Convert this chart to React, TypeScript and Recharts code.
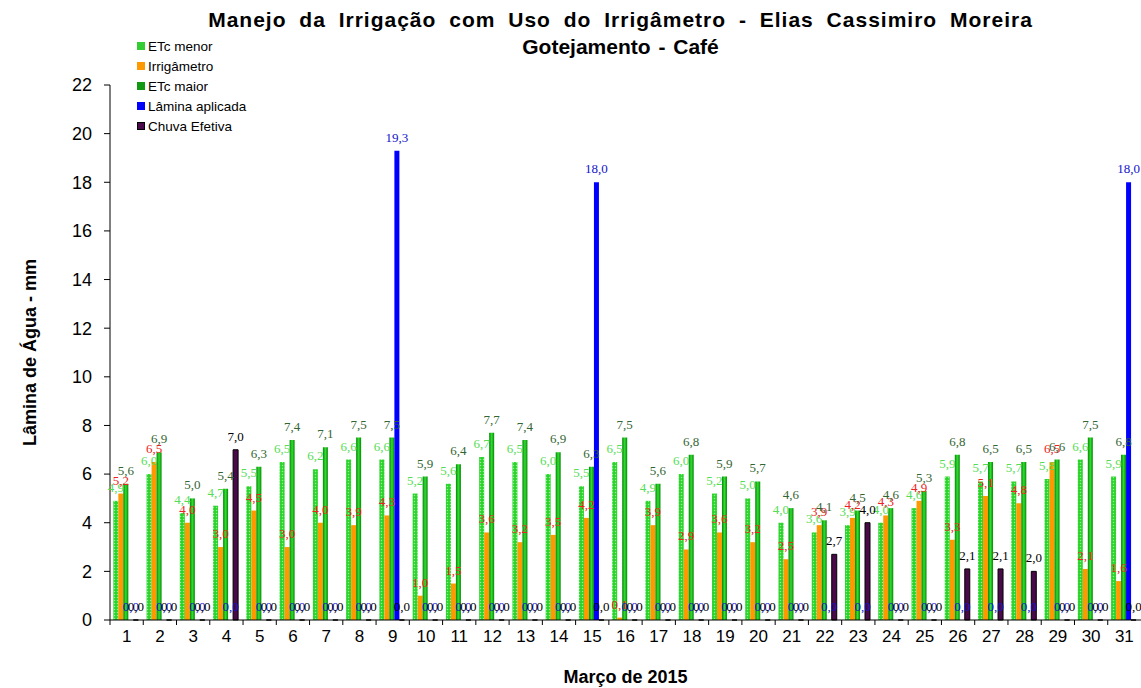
import React from 'react';
import { BarChart, Bar, XAxis, YAxis, LabelList } from 'recharts';

const days = ['1','2','3','4','5','6','7','8','9','10','11','12','13','14','15','16','17','18','19','20','21','22','23','24','25','26','27','28','29','30','31'];
const etcMenor = [4.9,6.0,4.4,4.7,5.5,6.5,6.2,6.6,6.6,5.2,5.6,6.7,6.5,6.0,5.5,6.5,4.9,6.0,5.2,5.0,4.0,3.6,3.9,4.0,4.6,5.9,5.7,5.7,5.8,6.6,5.9];
const irrigametro = [5.2,6.5,4.0,3.0,4.5,3.0,4.0,3.9,4.3,1.0,1.5,3.6,3.2,3.5,4.2,0.1,3.9,2.9,3.6,3.2,2.5,3.9,4.2,4.3,4.9,3.3,5.1,4.8,6.5,2.1,1.6];
const etcMaior = [5.6,6.9,5.0,5.4,6.3,7.4,7.1,7.5,7.5,5.9,6.4,7.7,7.4,6.9,6.3,7.5,5.6,6.8,5.9,5.7,4.6,4.1,4.5,4.6,5.3,6.8,6.5,6.5,6.6,7.5,6.8];
const laminaAplicada = [0,0,0,0,0,0,0,0,19.3,0,0,0,0,0,18.0,0,0,0,0,0,0,0,0,0,0,0,0,0,0,0,18.0];
const chuvaEfetiva = [0,0,0,7.0,0,0,0,0,0,0,0,0,0,0,0,0,0,0,0,0,0,2.7,4.0,0,0,2.1,2.1,2.0,0,0,0];
const yTicks = [0,2,4,6,8,10,12,14,16,18,20,22];

const data = days.map((d, i) => ({
  day: d,
  menor: etcMenor[i],
  irrig: irrigametro[i],
  maior: etcMaior[i],
  lamina: laminaAplicada[i],
  chuva: chuvaEfetiva[i],
}));

const fmt = (v: any) => Number(v).toFixed(1).replace('.', ',');

const makeLabel = (color: string) => (props: any) => {
  const { x, y, width, value } = props;
  return (
    <text x={Number(x) + Number(width) / 2} y={Number(y) - 9} textAnchor="middle" fill={color}
      style={{ fontFamily: '"Liberation Serif", serif', fontSize: 13 }}>
      {fmt(value)}
    </text>
  );
};

const XTick = (props: any) => {
  const { x, y, payload } = props;
  const off = payload && typeof payload.offset === 'number' ? payload.offset : 0;
  const axisY = y - 8;
  return (
    <g>
      <line x1={x - off} x2={x - off} y1={axisY} y2={axisY + 5} stroke="#000" />
      <text x={x} y={y} dy={14} textAnchor="middle" fill="#000" style={{ fontSize: 17, fontFamily: '"Liberation Sans", Arial, sans-serif' }}>
        {payload.value}
      </text>
    </g>
  );
};

const legendItems = [
  { name: 'ETc menor', color: '#33cc33' },
  { name: 'Irrigâmetro', color: '#ff9900' },
  { name: 'ETc maior', color: '#119911' },
  { name: 'Lâmina aplicada', color: '#0000ff' },
  { name: 'Chuva Efetiva', color: '#4a0a4a' },
];

export default function App() {
  return (
    <div style={{ position: 'absolute', left: 0, top: 0, width: 1141, height: 688, background: '#fff', fontFamily: '"Liberation Sans", Arial, sans-serif', overflow: 'hidden' }}>
      <div style={{ position: 'absolute', left: 0, width: 1141, top: 6, textAlign: 'center', paddingLeft: 100, boxSizing: 'border-box', fontWeight: 'bold', fontSize: 21, lineHeight: '27px', color: '#000' }}>
        <div style={{ letterSpacing: 1, wordSpacing: 6, whiteSpace: 'nowrap' }}>Manejo da Irrigação com Uso do Irrigâmetro - Elias Cassimiro Moreira</div>
        <div style={{ wordSpacing: 2 }}>Gotejamento - Café</div>
      </div>
      <div style={{ position: 'absolute', left: 137, top: 36, fontSize: 13.5, color: '#000', zIndex: 2 }}>
        {legendItems.map((it) => (
          <div key={it.name} style={{ display: 'flex', alignItems: 'center', height: 20 }}>
            <span style={{ display: 'inline-block', width: 8, height: 8, background: it.color, border: it.name === 'Chuva Efetiva' ? '1px solid #000' : 'none', marginRight: 3, boxSizing: 'border-box' }} />
            <span>{it.name}</span>
          </div>
        ))}
      </div>
      <BarChart width={1141} height={688} data={data} margin={{ top: 85, right: 0, bottom: 40, left: 0 }} barGap={0} barCategoryGap="10%">
        <defs>
          <pattern id="hatch" width="3" height="3" patternUnits="userSpaceOnUse">
            <rect width="3" height="3" fill="#33dd33" />
            <rect width="1" height="1" fill="#99ee99" />
            <rect x="1.5" y="1.5" width="1" height="1" fill="#22aa22" />
          </pattern>
          <linearGradient id="maiorGrad" x1="0" y1="0" x2="1" y2="0">
            <stop offset="0" stopColor="#008800" />
            <stop offset="0.5" stopColor="#33dd33" />
            <stop offset="1" stopColor="#008800" />
          </linearGradient>
        </defs>
        <XAxis dataKey="day" height={28} tick={<XTick />} tickLine={false} tickSize={6} tickMargin={2} interval={0} axisLine={{ stroke: '#000' }}
          label={{ value: 'Março de 2015', position: 'bottom', offset: 22, style: { fontWeight: 'bold', fontSize: 18, fill: '#000' } }} />
        <YAxis width={110} domain={[0, 22]} ticks={yTicks} interval={0} tick={{ fontSize: 18, fill: '#000', fontFamily: '"Liberation Sans", Arial, sans-serif' }} tickLine={{ stroke: '#000' }} tickSize={6} tickMargin={12} axisLine={{ stroke: '#000' }}
          label={{ value: 'Lâmina de Água - mm', angle: -90, position: 'insideLeft', offset: 30, style: { fontWeight: 'bold', fontSize: 18, fill: '#000', textAnchor: 'middle' } }} />
        <Bar dataKey="menor" fill="url(#hatch)" isAnimationActive={false}>
          <LabelList dataKey="menor" content={makeLabel('#55dd55')} />
        </Bar>
        <Bar dataKey="irrig" fill="#ff9900" isAnimationActive={false}>
          <LabelList dataKey="irrig" content={makeLabel('#ee2222')} />
        </Bar>
        <Bar dataKey="maior" fill="url(#maiorGrad)" isAnimationActive={false}>
          <LabelList dataKey="maior" content={makeLabel('#336633')} />
        </Bar>
        <Bar dataKey="lamina" fill="#0000ff" minPointSize={0.01} isAnimationActive={false}>
          <LabelList dataKey="lamina" content={makeLabel('#1111cc')} />
        </Bar>
        <Bar dataKey="chuva" fill="#4a0a4a" stroke="#000" strokeWidth={1} minPointSize={0.01} isAnimationActive={false}>
          <LabelList dataKey="chuva" content={makeLabel('#000')} />
        </Bar>
      </BarChart>
    </div>
  );
}
